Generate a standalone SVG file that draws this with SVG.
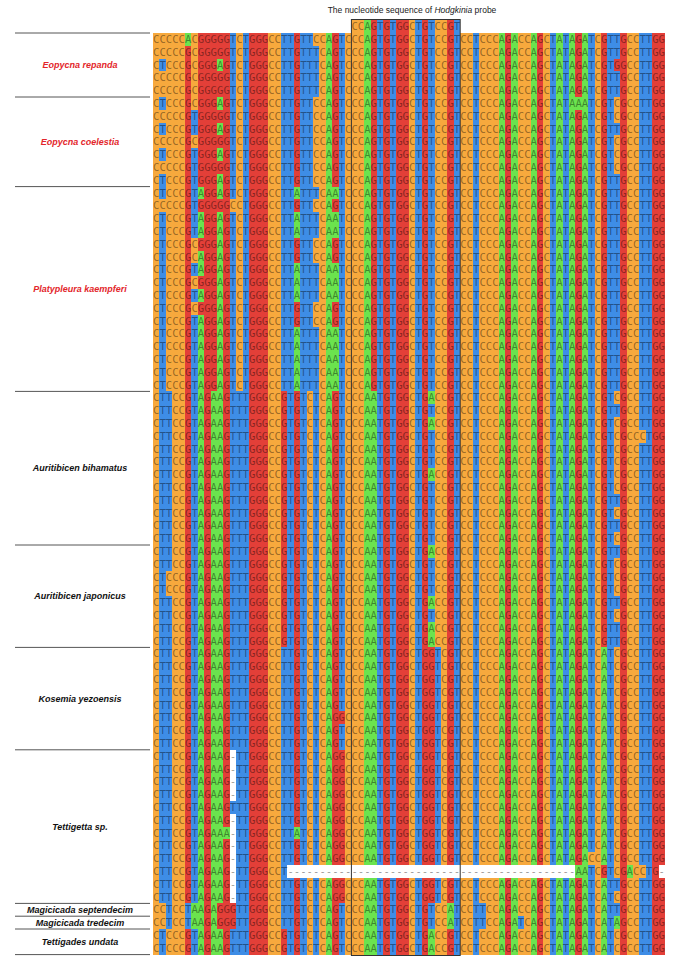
<svg xmlns="http://www.w3.org/2000/svg" width="675" height="963" viewBox="0 0 675 963">
<style>
.c{fill:#F7A93D}.g{fill:#E33F38}.t{fill:#3E8DE6}.a{fill:#6BE34E}.w{fill:#FFFFFF}
.s{font-family:"DejaVu Sans Mono",monospace;font-size:10.63px;fill:#000;fill-opacity:0.42}
.l{font-family:"Liberation Sans",Arial,sans-serif;font-size:9px;font-weight:bold;font-style:italic;text-anchor:middle;fill:#111}
.r{fill:#E3262B}
.ln{stroke:#555;stroke-width:1}
</style>
<rect width="675" height="963" fill="#fff"/>
<g id="header">
<text x="412" y="13" text-anchor="middle" style="font-family:'Liberation Sans',Arial,sans-serif;font-size:8.5px;fill:#222">The nucleotide sequence of <tspan font-style="italic">Hodgkinia</tspan> probe</text>
</g>
<g id="alignment-bg" transform="translate(153,33) scale(6.4,12.8)" shape-rendering="crispEdges">
<rect class="c" x="0" y="0" width="80" height="72"/>
<rect class="c" x="31" y="-1" width="17" height="1"/>
<!-- col 2 -->
<rect class="t" x="1" y="2" width="1" height="1"/><rect class="t" x="1" y="5" width="1" height="1"/><rect class="t" x="1" y="7" width="1" height="1"/><rect class="t" x="1" y="9" width="1" height="1"/><rect class="t" x="1" y="11" width="1" height="2"/><rect class="t" x="1" y="14" width="1" height="54"/><rect class="t" x="1" y="70" width="1" height="2"/>
<!-- col 3 -->
<rect class="t" x="2" y="28" width="1" height="14"/><rect class="t" x="2" y="44" width="1" height="26"/>
<!-- col 6 -->
<rect class="g" x="5" y="0" width="1" height="72"/><rect class="a" x="5" y="0" width="1" height="1"/><rect class="t" x="5" y="68" width="1" height="2"/>
<!-- col 7 -->
<rect class="t" x="6" y="6" width="1" height="2"/><rect class="t" x="6" y="9" width="1" height="7"/><rect class="t" x="6" y="18" width="1" height="1"/><rect class="t" x="6" y="20" width="1" height="1"/><rect class="t" x="6" y="22" width="1" height="46"/><rect class="t" x="6" y="70" width="1" height="2"/><rect class="a" x="6" y="68" width="1" height="2"/>
<!-- col 8 -->
<rect class="a" x="7" y="0" width="1" height="72"/><rect class="g" x="7" y="0" width="1" height="12"/><rect class="g" x="7" y="13" width="1" height="1"/><rect class="g" x="7" y="16" width="1" height="1"/><rect class="g" x="7" y="19" width="1" height="1"/><rect class="g" x="7" y="21" width="1" height="1"/>
<!-- col 9 -->
<rect class="g" x="8" y="0" width="1" height="72"/>
<!-- col 10 -->
<rect class="g" x="9" y="0" width="1" height="28"/><rect class="a" x="9" y="28" width="1" height="44"/>
<!-- col 11 -->
<rect class="a" x="10" y="0" width="1" height="72"/><rect class="g" x="10" y="0" width="1" height="2"/><rect class="g" x="10" y="3" width="1" height="2"/><rect class="g" x="10" y="6" width="1" height="1"/><rect class="g" x="10" y="8" width="1" height="1"/><rect class="g" x="10" y="10" width="1" height="1"/><rect class="g" x="10" y="13" width="1" height="1"/><rect class="g" x="10" y="68" width="1" height="2"/>
<!-- col 12 -->
<rect class="g" x="11" y="0" width="1" height="72"/><rect class="a" x="11" y="62" width="1" height="1"/>
<!-- col 13 -->
<rect class="t" x="12" y="0" width="1" height="72"/><rect class="c" x="12" y="13" width="1" height="1"/><rect class="g" x="12" y="68" width="1" height="2"/>
<!-- col 14,15 -->
<rect class="t" x="13" y="28" width="1" height="44"/><rect class="t" x="14" y="0" width="1" height="72"/>
<!-- col 16-18 -->
<rect class="g" x="15" y="0" width="3" height="72"/>
<!-- col 21 -->
<rect class="t" x="20" y="0" width="1" height="72"/><rect class="g" x="20" y="28" width="1" height="20"/><rect class="g" x="20" y="70" width="1" height="2"/>
<!-- col 22 -->
<rect class="t" x="21" y="0" width="1" height="72"/>
<!-- col 23 -->
<rect class="g" x="22" y="0" width="1" height="72"/><rect class="a" x="22" y="12" width="1" height="1"/><rect class="a" x="22" y="14" width="1" height="2"/><rect class="a" x="22" y="18" width="1" height="3"/><rect class="a" x="22" y="23" width="1" height="5"/><rect class="a" x="22" y="62" width="1" height="1"/>
<!-- col 24,25 -->
<rect class="t" x="23" y="0" width="1" height="72"/><rect class="t" x="24" y="0" width="1" height="28"/>
<!-- col 26 -->
<rect class="t" x="25" y="0" width="1" height="72"/><rect class="c" x="25" y="0" width="1" height="1"/><rect class="c" x="25" y="5" width="1" height="7"/><rect class="c" x="25" y="13" width="1" height="1"/><rect class="c" x="25" y="16" width="1" height="2"/><rect class="c" x="25" y="21" width="1" height="2"/>
<!-- col 28 -->
<rect class="a" x="27" y="0" width="1" height="72"/>
<!-- col 29 -->
<rect class="g" x="28" y="0" width="1" height="72"/><rect class="a" x="28" y="12" width="1" height="1"/><rect class="a" x="28" y="14" width="1" height="2"/><rect class="a" x="28" y="18" width="1" height="3"/><rect class="a" x="28" y="23" width="1" height="5"/>
<!-- col 30 -->
<rect class="t" x="29" y="0" width="1" height="72"/><rect class="g" x="29" y="53" width="1" height="1"/><rect class="g" x="29" y="56" width="1" height="12"/>
<!-- box cols 34-48 -->
<rect class="a" x="33" y="-1" width="1" height="73"/>
<rect class="g" x="34" y="-1" width="1" height="29"/><rect class="a" x="34" y="28" width="1" height="44"/>
<rect class="t" x="35" y="-1" width="1" height="73"/>
<rect class="g" x="36" y="-1" width="1" height="73"/>
<rect class="t" x="37" y="-1" width="1" height="73"/>
<rect class="g" x="38" y="-1" width="2" height="73"/>
<rect class="t" x="41" y="-1" width="1" height="73"/>
<rect class="g" x="42" y="-1" width="1" height="73"/>
<rect class="t" x="43" y="-1" width="1" height="73"/><rect class="a" x="43" y="28" width="1" height="1"/><rect class="a" x="43" y="30" width="1" height="1"/><rect class="a" x="43" y="34" width="1" height="1"/><rect class="a" x="43" y="40" width="1" height="1"/><rect class="a" x="43" y="44" width="1" height="1"/><rect class="a" x="43" y="46" width="1" height="2"/><rect class="a" x="43" y="70" width="1" height="2"/><rect class="g" x="43" y="48" width="1" height="20"/>
<rect class="t" x="44" y="48" width="1" height="20"/>
<rect class="g" x="46" y="-1" width="1" height="73"/><rect class="a" x="46" y="68" width="1" height="2"/>
<rect class="t" x="47" y="-1" width="1" height="73"/>
<!-- suffix cols -->
<rect class="t" x="50" y="0" width="1" height="72"/>
<rect class="t" x="51" y="68" width="1" height="2"/>
<rect class="a" x="54" y="0" width="1" height="72"/>
<rect class="g" x="55" y="0" width="1" height="72"/>
<rect class="a" x="56" y="0" width="1" height="72"/>
<rect class="t" x="57" y="69" width="1" height="1"/>
<rect class="a" x="59" y="0" width="1" height="72"/>
<rect class="g" x="60" y="0" width="1" height="72"/>
<rect class="t" x="62" y="0" width="1" height="72"/>
<rect class="a" x="63" y="0" width="1" height="72"/>
<rect class="t" x="64" y="0" width="1" height="72"/>
<rect class="a" x="65" y="0" width="1" height="72"/>
<rect class="g" x="66" y="0" width="1" height="72"/><rect class="a" x="66" y="5" width="1" height="1"/><rect class="a" x="66" y="65" width="1" height="1"/>
<rect class="a" x="67" y="0" width="1" height="72"/>
<rect class="t" x="68" y="0" width="1" height="72"/><rect class="c" x="68" y="64" width="1" height="1"/>
<rect class="g" x="70" y="0" width="1" height="72"/><rect class="a" x="70" y="48" width="1" height="17"/><rect class="a" x="70" y="66" width="1" height="6"/>
<rect class="t" x="71" y="0" width="1" height="72"/>
<rect class="t" x="72" y="0" width="1" height="2"/><rect class="t" x="72" y="3" width="1" height="2"/><rect class="t" x="72" y="7" width="1" height="1"/><rect class="t" x="72" y="11" width="1" height="17"/><rect class="t" x="72" y="29" width="1" height="1"/><rect class="t" x="72" y="36" width="1" height="1"/><rect class="t" x="72" y="38" width="1" height="1"/><rect class="t" x="72" y="40" width="1" height="1"/><rect class="t" x="72" y="44" width="1" height="1"/><rect class="t" x="72" y="46" width="1" height="2"/><rect class="t" x="72" y="66" width="1" height="1"/><rect class="t" x="72" y="68" width="1" height="1"/><rect class="g" x="72" y="2" width="1" height="1"/><rect class="a" x="72" y="69" width="1" height="1"/>
<rect class="g" x="73" y="0" width="1" height="72"/>
<rect class="a" x="74" y="65" width="1" height="1"/>
<rect class="t" x="76" y="0" width="1" height="72"/><rect class="c" x="76" y="31" width="1" height="1"/><rect class="c" x="76" y="65" width="1" height="1"/>
<rect class="t" x="77" y="0" width="1" height="72"/>
<rect class="g" x="78" y="0" width="2" height="72"/>
<!-- gaps -->
<rect class="w" x="12" y="56" width="1" height="4"/><rect class="w" x="12" y="61" width="1" height="7"/>
<rect class="w" x="21" y="65" width="45" height="1"/><rect class="w" x="79" y="65" width="1" height="1"/>
</g>
<g id="alignment-text" class="s">
<text x="351.4" y="30.2" textLength="108.8">CCAGTGTGGCTGTCCGT</text>
<text x="153" y="43" textLength="512">CCCCCACGGGGGTCTGGGCCTTGTTCCAGTCCCAGTGTGGCTGTCCGTCCTCCCAGACCAGCTATAGATCGTTGCCTTGG</text>
<text x="153" y="55.8" textLength="512">CCCCCGCGGGGGTCTGGGCCTTGTTTCAGTCCCAGTGTGGCTGTCCGTCCTCCCAGACCAGCTATAGATCGTTGCCTTGG</text>
<text x="153" y="68.6" textLength="512">CTCCCGCGGGAGTCTGGGCCTTGTTTCAGTCCCAGTGTGGCTGTCCGTCCTCCCAGACCAGCTATAGATCGTGGCCTTGG</text>
<text x="153" y="81.4" textLength="512">CCCCCGCGGGGGTCTGGGCCTTGTTTCAGTCCCAGTGTGGCTGTCCGTCCTCCCAGACCAGCTATAGATCGTTGCCTTGG</text>
<text x="153" y="94.2" textLength="512">CCCCCGCGGGGGTCTGGGCCTTGTTTCAGTCCCAGTGTGGCTGTCCGTCCTCCCAGACCAGCTATAGATCGTTGCCTTGG</text>
<text x="153" y="107" textLength="512">CTCCCGCGGGAGTCTGGGCCTTGTTCCAGTCCCAGTGTGGCTGTCCGTCCTCCCAGACCAGCTATAAATCGTCGCCTTGG</text>
<text x="153" y="119.8" textLength="512">CCCCCGTGGGGGTCTGGGCCTTGTTCCAGTCCCAGTGTGGCTGTCCGTCCTCCCAGACCAGCTATAGATCGTCGCCTTGG</text>
<text x="153" y="132.6" textLength="512">CTCCCGTGGGAGTCTGGGCCTTGTTCCAGTCCCAGTGTGGCTGTCCGTCCTCCCAGACCAGCTATAGATCGTTGCCTTGG</text>
<text x="153" y="145.4" textLength="512">CCCCCGCGGGGGTCTGGGCCTTGTTCCAGTCCCAGTGTGGCTGTCCGTCCTCCCAGACCAGCTATAGATCGTCGCCTTGG</text>
<text x="153" y="158.2" textLength="512">CTCCCGTGGGAGTCTGGGCCTTGTTCCAGTCCCAGTGTGGCTGTCCGTCCTCCCAGACCAGCTATAGATCGTCGCCTTGG</text>
<text x="153" y="171" textLength="512">CCCCCGTGGGGGTCTGGGCCTTGTTCCAGTCCCAGTGTGGCTGTCCGTCCTCCCAGACCAGCTATAGATCGTCGCCTTGG</text>
<text x="153" y="183.8" textLength="512">CTCCCGTGGGAGTCTGGGCCTTGTTCCAGTCCCAGTGTGGCTGTCCGTCCTCCCAGACCAGCTATAGATCGTTGCCTTGG</text>
<text x="153" y="196.6" textLength="512">CTCCCGTAGGAGTCTGGGCCTTATTTCAATCCCAGTGTGGCTGTCCGTCCTCCCAGACCAGCTATAGATCGTTGCCTTGG</text>
<text x="153" y="209.4" textLength="512">CCCCCGTGGGGGCCTGGGCCTTGTTCCAGTCCCAGTGTGGCTGTCCGTCCTCCCAGACCAGCTATAGATCGTTGCCTTGG</text>
<text x="153" y="222.2" textLength="512">CTCCCGTAGGAGTCTGGGCCTTATTTCAATCCCAGTGTGGCTGTCCGTCCTCCCAGACCAGCTATAGATCGTTGCCTTGG</text>
<text x="153" y="235" textLength="512">CTCCCGTAGGAGTCTGGGCCTTATTTCAATCCCAGTGTGGCTGTCCGTCCTCCCAGACCAGCTATAGATCGTTGCCTTGG</text>
<text x="153" y="247.8" textLength="512">CTCCCGCGGGAGTCTGGGCCTTGTTCCAGTCCCAGTGTGGCTGTCCGTCCTCCCAGACCAGCTATAGATCGTTGCCTTGG</text>
<text x="153" y="260.6" textLength="512">CTCCCGCAGGAGTCTGGGCCTTGTTCCAGTCCCAGTGTGGCTGTCCGTCCTCCCAGACCAGCTATAGATCGTTGCCTTGG</text>
<text x="153" y="273.4" textLength="512">CTCCCGTAGGAGTCTGGGCCTTATTTCAATCCCAGTGTGGCTGTCCGTCCTCCCAGACCAGCTATAGATCGTTGCCTTGG</text>
<text x="153" y="286.2" textLength="512">CTCCCGCGGGAGTCTGGGCCTTATTTCAATCCCAGTGTGGCTGTCCGTCCTCCCAGACCAGCTATAGATCGTTGCCTTGG</text>
<text x="153" y="299" textLength="512">CTCCCGTAGGAGTCTGGGCCTTATTTCAATCCCAGTGTGGCTGTCCGTCCTCCCAGACCAGCTATAGATCGTTGCCTTGG</text>
<text x="153" y="311.8" textLength="512">CTCCCGCGGGAGTCTGGGCCTTGTTCCAGTCCCAGTGTGGCTGTCCGTCCTCCCAGACCAGCTATAGATCGTTGCCTTGG</text>
<text x="153" y="324.6" textLength="512">CTCCCGTAGGAGTCTGGGCCTTGTTCCAGTCCCAGTGTGGCTGTCCGTCCTCCCAGACCAGCTATAGATCGTTGCCTTGG</text>
<text x="153" y="337.4" textLength="512">CTCCCGTAGGAGTCTGGGCCTTATTTCAATCCCAGTGTGGCTGTCCGTCCTCCCAGACCAGCTATAGATCGTTGCCTTGG</text>
<text x="153" y="350.2" textLength="512">CTCCCGTAGGAGTCTGGGCCTTATTTCAATCCCAGTGTGGCTGTCCGTCCTCCCAGACCAGCTATAGATCGTTGCCTTGG</text>
<text x="153" y="363" textLength="512">CTCCCGTAGGAGTCTGGGCCTTATTTCAATCCCAGTGTGGCTGTCCGTCCTCCCAGACCAGCTATAGATCGTTGCCTTGG</text>
<text x="153" y="375.8" textLength="512">CTCCCGTAGGAGTCTGGGCCTTATTTCAATCCCAGTGTGGCTGTCCGTCCTCCCAGACCAGCTATAGATCGTTGCCTTGG</text>
<text x="153" y="388.6" textLength="512">CTCCCGTAGGAGTCTGGGCCTTATTTCAATCCCAGTGTGGCTGTCCGTCCTCCCAGACCAGCTATAGATCGTTGCCTTGG</text>
<text x="153" y="401.4" textLength="512">CTTCCGTAGAAGTTTGGGCCGTGTCTCAGTCCCAATGTGGCTGACCGTCCTCCCAGACCAGCTATAGATCGTCGCCTTGG</text>
<text x="153" y="414.2" textLength="512">CTTCCGTAGAAGTTTGGGCCGTGTCTCAGTCCCAATGTGGCTGTCCGTCCTCCCAGACCAGCTATAGATCGTTGCCTTGG</text>
<text x="153" y="427" textLength="512">CTTCCGTAGAAGTTTGGGCCGTGTCTCAGTCCCAATGTGGCTGACCGTCCTCCCAGACCAGCTATAGATCGTCGCCTTGG</text>
<text x="153" y="439.8" textLength="512">CTTCCGTAGAAGTTTGGGCCGTGTCTCAGTCCCAATGTGGCTGTCCGTCCTCCCAGACCAGCTATAGATCGTCGCCCTGG</text>
<text x="153" y="452.6" textLength="512">CTTCCGTAGAAGTTTGGGCCGTGTCTCAGTCCCAATGTGGCTGTCCGTCCTCCCAGACCAGCTATAGATCGTCGCCTTGG</text>
<text x="153" y="465.4" textLength="512">CTTCCGTAGAAGTTTGGGCCGTGTCTCAGTCCCAATGTGGCTGTCCGTCCTCCCAGACCAGCTATAGATCGTCGCCTTGG</text>
<text x="153" y="478.2" textLength="512">CTTCCGTAGAAGTTTGGGCCGTGTCTCAGTCCCAATGTGGCTGACCGTCCTCCCAGACCAGCTATAGATCGTCGCCTTGG</text>
<text x="153" y="491" textLength="512">CTTCCGTAGAAGTTTGGGCCGTGTCTCAGTCCCAATGTGGCTGTCCGTCCTCCCAGACCAGCTATAGATCGTCGCCTTGG</text>
<text x="153" y="503.8" textLength="512">CTTCCGTAGAAGTTTGGGCCGTGTCTCAGTCCCAATGTGGCTGTCCGTCCTCCCAGACCAGCTATAGATCGTTGCCTTGG</text>
<text x="153" y="516.6" textLength="512">CTTCCGTAGAAGTTTGGGCCGTGTCTCAGTCCCAATGTGGCTGTCCGTCCTCCCAGACCAGCTATAGATCGTCGCCTTGG</text>
<text x="153" y="529.4" textLength="512">CTTCCGTAGAAGTTTGGGCCGTGTCTCAGTCCCAATGTGGCTGTCCGTCCTCCCAGACCAGCTATAGATCGTTGCCTTGG</text>
<text x="153" y="542.2" textLength="512">CTTCCGTAGAAGTTTGGGCCGTGTCTCAGTCCCAATGTGGCTGTCCGTCCTCCCAGACCAGCTATAGATCGTCGCCTTGG</text>
<text x="153" y="555" textLength="512">CTTCCGTAGAAGTTTGGGCCGTGTCTCAGTCCCAATGTGGCTGACCGTCCTCCCAGACCAGCTATAGATCGTTGCCTTGG</text>
<text x="153" y="567.8" textLength="512">CTTCCGTAGAAGTTTGGGCCGTGTCTCAGTCCCAATGTGGCTGTCCGTCCTCCCAGACCAGCTATAGATCGTCGCCTTGG</text>
<text x="153" y="580.6" textLength="512">CTCCCGTAGAAGTTTGGGCCGTGTCTCAGTCCCAATGTGGCTGTCCGTCCTCCCAGACCAGCTATAGATCGTCGCCTTGG</text>
<text x="153" y="593.4" textLength="512">CTCCCGTAGAAGTTTGGGCCGTGTCTCAGTCCCAATGTGGCTGTCCGTCCTCCCAGACCAGCTATAGATCGTCGCCTTGG</text>
<text x="153" y="606.2" textLength="512">CTTCCGTAGAAGTTTGGGCCGTGTCTCAGTCCCAATGTGGCTGACCGTCCTCCCAGACCAGCTATAGATCGTTGCCTTGG</text>
<text x="153" y="619" textLength="512">CTTCCGTAGAAGTTTGGGCCGTGTCTCAGTCCCAATGTGGCTGTCCGTCCTCCCAGACCAGCTATAGATCGTCGCCTTGG</text>
<text x="153" y="631.8" textLength="512">CTTCCGTAGAAGTTTGGGCCGTGTCTCAGTCCCAATGTGGCTGACCGTCCTCCCAGACCAGCTATAGATCGTTGCCTTGG</text>
<text x="153" y="644.6" textLength="512">CTTCCGTAGAAGTTTGGGCCGTGTCTCAGTCCCAATGTGGCTGACCGTCCTCCCAGACCAGCTATAGATCGTTGCCTTGG</text>
<text x="153" y="657.4" textLength="512">CTTCCGTAGAAGTTTGGGCCTTGTCTCAGTCCCAATGTGGCTGGTCGTCCTCCCAGACCAGCTATAGATCATCGCCTTGG</text>
<text x="153" y="670.2" textLength="512">CTTCCGTAGAAGTTTGGGCCTTGTCTCAGTCCCAATGTGGCTGGTCGTCCTCCCAGACCAGCTATAGATCATCGCCTTGG</text>
<text x="153" y="683" textLength="512">CTTCCGTAGAAGTTTGGGCCTTGTCTCAGTCCCAATGTGGCTGGTCGTCCTCCCAGACCAGCTATAGATCATCGCCTTGG</text>
<text x="153" y="695.8" textLength="512">CTTCCGTAGAAGTTTGGGCCTTGTCTCAGTCCCAATGTGGCTGGTCGTCCTCCCAGACCAGCTATAGATCATCGCCTTGG</text>
<text x="153" y="708.6" textLength="512">CTTCCGTAGAAGTTTGGGCCTTGTCTCAGTCCCAATGTGGCTGGTCGTCCTCCCAGACCAGCTATAGATCATCGCCTTGG</text>
<text x="153" y="721.4" textLength="512">CTTCCGTAGAAGTTTGGGCCTTGTCTCAGGCCCAATGTGGCTGGTCGTCCTCCCAGACCAGCTATAGATCATCGCCTTGG</text>
<text x="153" y="734.2" textLength="512">CTTCCGTAGAAGTTTGGGCCTTGTCTCAGTCCCAATGTGGCTGGTCGTCCTCCCAGACCAGCTATAGATCATCGCCTTGG</text>
<text x="153" y="747" textLength="512">CTTCCGTAGAAGTTTGGGCCTTGTCTCAGTCCCAATGTGGCTGGTCGTCCTCCCAGACCAGCTATAGATCATCGCCTTGG</text>
<text x="153" y="759.8" textLength="512">CTTCCGTAGAAG-TTGGGCCTTGTCTCAGGCCCAATGTGGCTGGTCGTCCTCCCAGACCAGCTATAGATCATCGCCTTGG</text>
<text x="153" y="772.6" textLength="512">CTTCCGTAGAAG-TTGGGCCTTGTCTCAGGCCCAATGTGGCTGGTCGTCCTCCCAGACCAGCTATAGATCATCGCCTTGG</text>
<text x="153" y="785.4" textLength="512">CTTCCGTAGAAG-TTGGGCCTTGTCTCAGGCCCAATGTGGCTGGTCGTCCTCCCAGACCAGCTATAGATCATCGCCTTGG</text>
<text x="153" y="798.2" textLength="512">CTTCCGTAGAAG-TTGGGCCTTGTCTCAGGCCCAATGTGGCTGGTCGTCCTCCCAGACCAGCTATAGATCATCGCCTTGG</text>
<text x="153" y="811" textLength="512">CTTCCGTAGAAGTTTGGGCCTTGTCTCAGGCCCAATGTGGCTGGTCGTCCTCCCAGACCAGCTATAGATCATCGCCTTGG</text>
<text x="153" y="823.8" textLength="512">CTTCCGTAGAAG-TTGGGCCTTGTCTCAGGCCCAATGTGGCTGGTCGTCCTCCCAGACCAGCTATAGATCATCGCCTTGG</text>
<text x="153" y="836.6" textLength="512">CTTCCGTAGAAA-TTGGGCCTTATCTCAGGCCCAATGTGGCTGGTCGTCCTCCCAGACCAGCTATAGATCATCGCCTTGG</text>
<text x="153" y="849.4" textLength="512">CTTCCGTAGAAG-TTGGGCCTTGTCTCAGGCCCAATGTGGCTGGTCGTCCTCCCAGACCAGCTATAGATCATCGCCTTGG</text>
<text x="153" y="862.2" textLength="512">CTTCCGTAGAAG-TTGGGCCTTGTCTCAGGCCCAATGTGGCTGGTCGTCCTCCCAGACCAGCTATAGACCATCGCCTTGG</text>
<text x="153" y="875" textLength="512">CTTCCGTAGAAG-TTGGGCCT---------------------------------------------AATCGTCGACCTG-</text>
<text x="153" y="887.8" textLength="512">CTTCCGTAGAAG-TTGGGCCTTGTCTCAGGCCCAATGTGGCTGGTCGTCCTCCCAGACCAGCTATAGATCATTGCCTTGG</text>
<text x="153" y="900.6" textLength="512">CTTCCGTAGAAG-TTGGGCCTTGTCTCAGGCCCAATGTGGCTGGTCGTCCTCCCAGACCAGCTATAGATCATCGCCTTGG</text>
<text x="153" y="913.4" textLength="512">CCTCCTAAGAGGGTTGGGCCTTGTCTCAGTCCCAATGTGGCTGTCCATCCTTCCAGACCAGCTATAGATCATTGCCTTGG</text>
<text x="153" y="926.2" textLength="512">CCTCCTAAGAGGGTTGGGCCTTGTCTCAGTCCCAATGTGGCTGTCCATCCTTCCAGATCAGCTATAGATCATAGCCTTGG</text>
<text x="153" y="939" textLength="512">CTCCCGTAGAAGTTTGGGCCGTGTCTCAGTCCCAATGTGGCTGACCGTCCTCCCAGACCAGCTATAGATCATCGCCTTGG</text>
<text x="153" y="951.8" textLength="512">CTCCCGTAGAAGTTTGGGCCGTGTCTCAGTCCCAATGTGGCTGACCGTCCTCCCAGACCAGCTATAGATCATCGCCTTGG</text>
</g>
<g id="probe-box">
<rect x="351.4" y="19.5" width="108.8" height="936" fill="none" stroke="#333" stroke-width="1"/>
</g>
<g id="separators" class="ln">
<line x1="15" y1="33" x2="150" y2="33"/>
<line x1="15" y1="97" x2="150" y2="97"/>
<line x1="15" y1="186.6" x2="150" y2="186.6"/>
<line x1="15" y1="391.4" x2="150" y2="391.4"/>
<line x1="15" y1="545" x2="150" y2="545"/>
<line x1="15" y1="647.4" x2="150" y2="647.4"/>
<line x1="15" y1="749.8" x2="150" y2="749.8"/>
<line x1="15" y1="903.4" x2="150" y2="903.4"/>
<line x1="15" y1="916.2" x2="150" y2="916.2"/>
<line x1="15" y1="929" x2="150" y2="929"/>
<line x1="15" y1="954.6" x2="150" y2="954.6"/>
</g>
<g id="label-eopycna-repanda"><text class="l r" x="80" y="68">Eopycna repanda</text></g>
<g id="label-eopycna-coelestia"><text class="l r" x="80" y="145">Eopycna coelestia</text></g>
<g id="label-platypleura-kaempferi"><text class="l r" x="80" y="292">Platypleura kaempferi</text></g>
<g id="label-auritibicen-bihamatus"><text class="l" x="80" y="471">Auritibicen bihamatus</text></g>
<g id="label-auritibicen-japonicus"><text class="l" x="80" y="599">Auritibicen japonicus</text></g>
<g id="label-kosemia-yezoensis"><text class="l" x="80" y="702">Kosemia yezoensis</text></g>
<g id="label-tettigetta-sp"><text class="l" x="80" y="830">Tettigetta sp.</text></g>
<g id="label-magicicada-septendecim"><text class="l" x="80" y="913">Magicicada septendecim</text></g>
<g id="label-magicicada-tredecim"><text class="l" x="80" y="926">Magicicada tredecim</text></g>
<g id="label-tettigades-undata"><text class="l" x="80" y="945">Tettigades undata</text></g>
</svg>
